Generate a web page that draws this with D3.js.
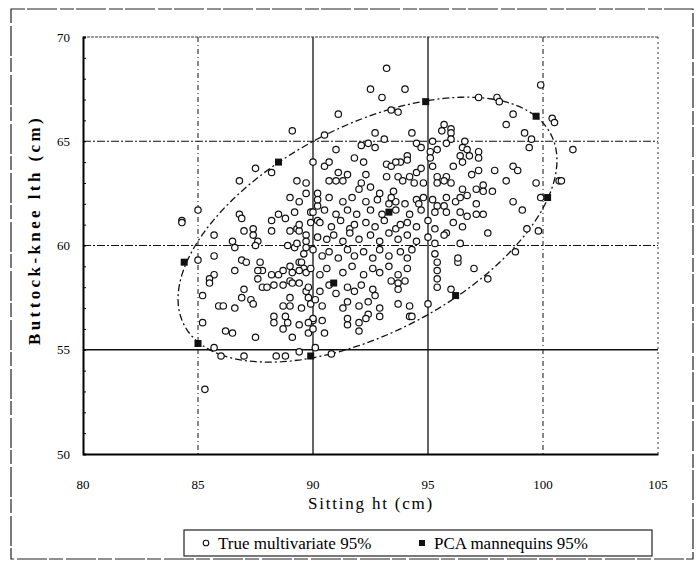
<!DOCTYPE html>
<html>
<head>
<meta charset="utf-8">
<script src="https://cdn.jsdelivr.net/npm/d3@7"></script>
<style>
body { margin: 0; background: #fff; }
text { font-family: 'Liberation Serif', 'DejaVu Serif', serif; }
</style>
</head>
<body>
<svg id="chart" width="696" height="564"></svg>
<script>
// axis ticks
var xTicks = [80, 85, 90, 95, 100, 105]
var yTicks = [50, 55, 60, 65, 70]

// true multivariate 95% sample (sitting ht, buttock-knee lth)
var multivariate = [
  [89.1,65.5],[90.0,64.0],[87.5,63.7],[88.2,63.5],[86.8,63.1],[89.3,63.1],[89.7,63.0],[89.7,62.5],[89.0,62.3],[89.4,62.1],
  [90.2,62.5],[90.2,61.9],[85.0,61.7],[84.3,61.2],[86.8,61.5],[86.9,61.3],[88.2,61.2],[88.5,61.5],[88.8,61.3],[89.2,61.6],
  [89.9,61.6],[89.9,61.1],[90.2,61.2],
  [93.2,68.5],[92.5,67.5],[94.0,67.5],[93.0,67.1],[91.1,66.3],[93.4,66.5],[93.7,66.4],[97.2,67.1],[98.0,67.1],[98.1,66.9],
  [99.9,67.7],[98.7,66.3],[98.4,65.8],[100.4,66.1],[100.5,65.9],[90.5,65.3],[92.7,65.4],[93.1,65.1],[94.3,65.4],[92.1,64.8],
  [92.4,64.9],[92.7,64.7],[94.5,64.9],[94.7,64.7],[91.0,64.6],[95.7,65.8],[95.6,65.5],[96.0,65.6],[96.0,65.4],[96.0,65.1],
  [95.2,65.0],[95.8,64.9],[96.6,65.0],[95.4,64.6],[96.5,64.7],[96.7,64.6],[99.2,65.4],[99.5,65.1],[99.4,64.7],[95.1,64.5],
  [91.8,64.2],[92.2,64.0],[94.1,64.3],[94.1,64.1],[93.8,64.0],[90.5,63.8],[90.7,64.0],[95.1,64.2],[95.2,63.8],[96.4,64.3],
  [96.8,64.3],[97.2,64.5],[97.2,64.2],[96.5,64.0],[98.7,63.8],[98.9,63.6],[97.9,63.6],[98.4,63.1],[99.7,63.0],[100.7,63.1],
  [99.9,62.3],[91.1,63.5],[91.5,63.4],[91.0,63.1],[90.7,63.1],[91.3,63.1],[92.1,63.0],[92.3,63.4],[92.0,62.7],[92.5,62.8],
  [93.2,63.9],[93.4,63.8],[93.6,64.0],[93.2,63.3],[93.7,63.3],[93.9,63.1],[94.2,63.3],[94.5,63.5],[94.7,63.7],[94.4,63.0],
  [94.8,63.0],[95.4,63.3],[95.8,63.3],[96.1,63.8],[95.4,63.0],[95.7,63.1],[96.0,63.0],[96.9,63.4],[97.2,63.6],[96.5,62.7],
  [97.1,62.7],[97.4,62.9],[97.4,62.6],[97.8,62.6],[98.7,62.1],[99.1,61.7],[96.7,62.4],[97.1,62.0],[97.4,61.5],[97.1,61.5],
  [96.2,62.1],[95.4,61.9],[95.7,61.9],[95.3,61.6],[95.8,61.6],[94.5,62.2],[94.8,62.3],[94.0,62.0],[93.6,62.1],[93.3,62.0],
  [92.9,62.5],[93.5,62.6],[101.3,64.6],[100.8,63.1],
  [84.3,61.1],[85.7,60.5],[87.0,60.7],[87.4,60.8],[87.4,60.5],[88.2,60.7],[89.0,60.7],[89.3,60.8],[89.4,60.7],[89.7,60.5],
  [86.5,60.2],[86.6,59.9],[87.6,60.2],[87.5,60.0],[88.9,60.0],[89.2,59.9],[89.3,60.1],[89.7,60.2],[89.7,59.9],[85.0,59.3],
  [85.7,59.5],[86.9,59.3],[87.1,59.2],[87.7,59.2],[87.8,58.8],[87.6,58.8],[86.6,58.8],[88.2,58.6],[88.5,58.6],[88.7,58.8],
  [89.0,59.0],[89.1,58.7],[89.4,59.2],[89.5,59.2],[89.6,58.9],[89.7,58.7],[85.7,58.6],[85.5,58.4],[85.5,58.2],[87.6,58.4],
  [87.8,58.0],[88.0,58.0],[88.3,58.1],[88.7,58.1],[89.0,58.3],[89.1,58.2],[89.4,58.2],[89.7,57.8],[85.2,57.6],[87.0,57.9],
  [86.9,57.5],[87.3,57.4],[87.4,57.2],[85.9,57.1],[86.1,57.1],[86.6,57.0],[89.0,57.5],[88.7,57.1],[89.0,57.1],[89.5,57.0],
  [89.8,57.5],[89.9,57.2],[90.1,57.4],[88.3,56.6],[88.3,56.3],[88.8,56.6],[88.9,56.3],[88.7,56.0],[89.4,56.2],[89.1,55.6],
  [89.8,55.8],[90.0,56.4],[90.0,56.0],[85.2,56.3],[86.2,55.9],[86.5,55.8],[87.5,55.6],[85.7,55.1],[86.0,54.7],[87.0,54.7],
  [88.4,54.7],[88.8,54.7],[89.4,54.9],[90.1,55.1],[85.3,53.1],
  [97.6,60.6],[99.3,60.8],[99.8,60.7],[98.8,59.7],[97.0,58.9],[97.6,58.4],[96.3,59.2],[95.4,58.4],[95.4,58.0],[96.0,57.9],
  [95.0,57.2],[94.2,56.6],[94.3,56.6],[93.7,57.2],[92.9,56.6],[92.4,56.7],[92.3,56.5],[92.0,55.9],[91.5,56.2],[90.5,55.8],
  [90.0,56.5],[90.8,54.8],[94.0,58.3],[93.7,58.2],[93.4,58.3],
  [89.4,61.0],[90.3,61.1],[90.8,60.9],[91.2,61.2],[91.6,60.8],[91.8,61.0],[92.3,61.1],[92.7,60.9],[93.1,61.2],[93.6,60.8],
  [93.8,61.0],[94.1,61.1],[94.5,60.9],[95.0,61.2],[95.3,60.8],[95.8,60.6],[96.1,61.1],[96.5,60.9],
  [90.2,60.4],[90.6,60.3],[90.9,60.5],[91.3,60.2],[91.6,60.6],[92.0,60.3],[92.5,60.5],[92.9,60.2],[93.3,60.6],[93.7,60.3],
  [94.1,60.5],[94.5,60.2],[95.0,60.4],[95.3,60.1],[95.7,60.5],[96.4,60.1],
  [89.6,59.6],[90.0,59.8],[90.4,59.5],[90.7,59.7],[91.1,59.4],[91.5,59.8],[91.8,59.5],[92.2,59.7],[92.6,59.4],[92.9,59.8],
  [93.3,59.5],[93.8,59.7],[94.1,59.4],[94.3,59.8],[95.3,59.6],[95.4,59.2],[96.3,59.4],
  [89.4,58.8],[89.9,58.9],[90.3,58.6],[90.6,58.9],[91.3,58.7],[91.7,59.0],[92.2,58.6],[92.6,58.9],[92.9,58.7],[93.3,59.0],
  [93.7,58.6],[94.1,58.9],[95.4,58.8],
  [89.8,58.0],[90.3,57.8],[90.7,58.1],[91.0,57.7],[91.5,58.0],[91.8,57.8],[92.1,58.1],[92.6,57.9],[92.7,57.6],[93.7,57.9],
  [90.4,57.1],[91.3,57.0],[91.5,57.3],[92.0,57.1],[92.4,57.3],[92.9,57.0],[94.2,57.1],
  [89.8,56.3],[90.4,56.4],[91.5,56.5],[92.0,56.3],
  [90.2,62.2],[90.7,62.3],[91.3,62.1],[91.7,62.3],[92.3,62.1],[92.8,62.2],[93.4,62.3],[94.6,62.0],[95.2,62.2],[95.8,62.3],
  [96.4,62.3],
  [90.0,61.6],[90.5,61.7],[91.0,61.5],[91.5,61.7],[91.9,61.5],[92.5,61.7],[93.0,61.5],[93.6,61.7],[94.2,61.5],[94.7,61.7],
  [96.4,61.6],[96.7,61.4]
]

// PCA mannequins 95%
var mannequins = [
  [88.5,64.0],[94.9,66.9],[99.7,66.2],[100.2,62.3],[96.2,57.6],[89.9,54.7],[85.0,55.3],[84.4,59.2],
  [90.9,58.2],[93.3,61.6]
]

// 95% ellipse: centre and two conjugate semi-diameters
var ellipseCentre = [92.37, 60.76]
var ellipseU = [7.85, 1.52]
var ellipseV = [2.50, 6.17]

var svg = d3.select('#chart')

var x = d3.scaleLinear().domain([80, 105]).range([83, 658])
var y = d3.scaleLinear().domain([50, 70]).range([454, 37])

// outer frame of the figure
svg.append('rect')
    .attr('x', 11).attr('y', 9)
    .attr('width', 682).attr('height', 550)
    .attr('fill', 'none')
    .attr('stroke', '#222')
    .attr('stroke-width', 1.2)
    .attr('stroke-dasharray', '14,2,30,3')

// grid lines
var solidX = [90, 95]
var solidY = [55]

svg.selectAll('.gx')
    .data(xTicks.slice(1, -1))
    .join('line')
    .attr('class', 'gx')
    .attr('x1', d => x(d)).attr('x2', d => x(d))
    .attr('y1', y(70)).attr('y2', y(50))
    .attr('stroke', '#111')
    .attr('stroke-width', d => solidX.indexOf(d) >= 0 ? 1.3 : 1)
    .attr('stroke-dasharray', d => solidX.indexOf(d) >= 0 ? null : '5,3,1,3')

svg.selectAll('.gy')
    .data(yTicks.slice(1, -1))
    .join('line')
    .attr('class', 'gy')
    .attr('x1', x(80)).attr('x2', x(105))
    .attr('y1', d => y(d)).attr('y2', d => y(d))
    .attr('stroke', '#111')
    .attr('stroke-width', d => solidY.indexOf(d) >= 0 ? 1.4 : 1.2)
    .attr('stroke-dasharray', d => solidY.indexOf(d) >= 0 ? null : '8,2,2,2')

// top and right border (dotted), left and bottom axes (solid)
svg.append('line')
    .attr('x1', x(80)).attr('x2', x(105)).attr('y1', y(70)).attr('y2', y(70))
    .attr('stroke', '#333').attr('stroke-width', 1.2).attr('stroke-dasharray', '3,1')
svg.append('line')
    .attr('x1', x(105)).attr('x2', x(105)).attr('y1', y(70)).attr('y2', y(50))
    .attr('stroke', '#333').attr('stroke-width', 1).attr('stroke-dasharray', '2,3')

var yAxis = svg.append('g')
    .attr('transform', 'translate(' + x(80) + ',0)')
    .call(d3.axisRight(y).ticks(20).tickSize(3).tickFormat(''))
yAxis.select('.domain').attr('stroke-width', 2)

var xAxis = svg.append('g')
    .attr('transform', 'translate(0,' + y(50) + ')')
    .call(d3.axisBottom(x).tickValues([]).tickSizeOuter(0))
xAxis.select('.domain').attr('stroke-width', 2)

// tick labels
svg.selectAll('.xl')
    .data(xTicks)
    .join('text')
    .attr('class', 'xl')
    .attr('x', d => x(d))
    .attr('y', 489)
    .attr('text-anchor', 'middle')
    .style('font-size', '13px')
    .text(d => d)

svg.selectAll('.yl')
    .data(yTicks)
    .join('text')
    .attr('class', 'yl')
    .attr('x', 70)
    .attr('y', d => y(d) + 4.5)
    .attr('text-anchor', 'end')
    .style('font-size', '13px')
    .text(d => d)

// axis titles
svg.append('text')
    .attr('x', 371).attr('y', 509)
    .attr('text-anchor', 'middle')
    .style('font-size', '17px')
    .style('letter-spacing', '1.8px')
    .text('Sitting ht (cm)')

svg.append('text')
    .attr('transform', 'translate(40,230) rotate(-90)')
    .attr('text-anchor', 'middle')
    .style('font-size', '17px')
    .style('font-weight', 'bold')
    .style('letter-spacing', '3.4px')
    .text('Buttock-knee lth (cm)')

// ellipse
var ellipsePts = d3.range(0, 361, 3).map(function(a) {
    var t = a * Math.PI / 180
    return [ellipseCentre[0] + Math.cos(t) * ellipseU[0] + Math.sin(t) * ellipseV[0],
            ellipseCentre[1] + Math.cos(t) * ellipseU[1] + Math.sin(t) * ellipseV[1]]
})
svg.append('path')
    .attr('d', d3.line().x(d => x(d[0])).y(d => y(d[1])).curve(d3.curveLinearClosed)(ellipsePts))
    .attr('fill', 'none')
    .attr('stroke', '#111')
    .attr('stroke-width', 1.3)
    .attr('stroke-dasharray', '7,3,2,3')

// points
svg.selectAll('.mv')
    .data(multivariate)
    .join('circle')
    .attr('class', 'mv')
    .attr('cx', d => x(d[0]))
    .attr('cy', d => y(d[1]))
    .attr('r', 3.2)
    .attr('fill', '#fff')
    .attr('stroke', '#111')
    .attr('stroke-width', 1.2)

svg.selectAll('.pca')
    .data(mannequins)
    .join('rect')
    .attr('class', 'pca')
    .attr('x', d => x(d[0]) - 3.5)
    .attr('y', d => y(d[1]) - 3.5)
    .attr('width', 7).attr('height', 7)
    .attr('fill', '#111')

// legend
var legend = svg.append('g')
legend.append('rect')
    .attr('x', 184).attr('y', 530).attr('width', 468).attr('height', 26)
    .attr('fill', '#fff').attr('stroke', '#222').attr('stroke-width', 1.2)
legend.append('circle')
    .attr('cx', 206).attr('cy', 543).attr('r', 2.8)
    .attr('fill', '#fff').attr('stroke', '#111').attr('stroke-width', 1.1)
legend.append('text')
    .attr('x', 218).attr('y', 549)
    .style('font-size', '17px')
    .text('True multivariate 95%')
legend.append('rect')
    .attr('x', 419).attr('y', 540).attr('width', 6).attr('height', 6)
    .attr('fill', '#111')
legend.append('text')
    .attr('x', 434).attr('y', 549)
    .style('font-size', '17px')
    .text('PCA mannequins 95%')
</script>
</body>
</html>
